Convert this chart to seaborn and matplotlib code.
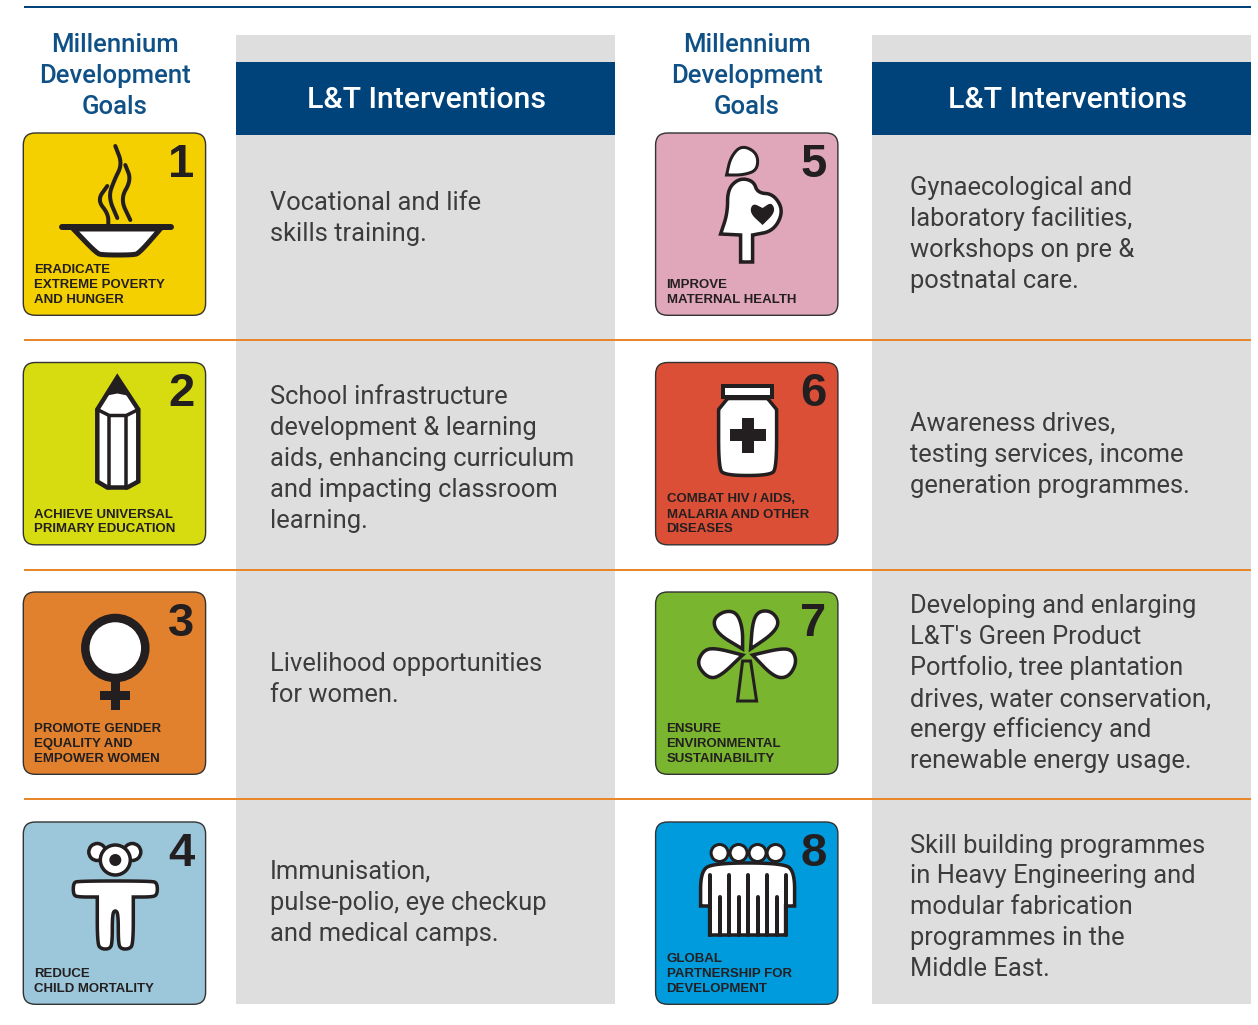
import numpy as np
import matplotlib
matplotlib.use("Agg")
import matplotlib.pyplot as plt
import seaborn as sns
from matplotlib.patches import Circle, FancyBboxPatch, Polygon, Rectangle
from matplotlib.transforms import Affine2D

GOAL_TITLES = [
    ["ERADICATE", "EXTREME POVERTY", "AND HUNGER"],
    ["ACHIEVE UNIVERSAL", "PRIMARY EDUCATION"],
    ["PROMOTE GENDER", "EQUALITY AND", "EMPOWER WOMEN"],
    ["REDUCE", "CHILD MORTALITY"],
    ["IMPROVE", "MATERNAL HEALTH"],
    ["COMBAT HIV / AIDS,", "MALARIA AND OTHER", "DISEASES"],
    ["ENSURE", "ENVIRONMENTAL", "SUSTAINABILITY"],
    ["GLOBAL", "PARTNERSHIP FOR", "DEVELOPMENT"],
]
INTERVENTIONS = [
    ["Vocational and life", "skills training."],
    ["School infrastructure", "development & learning", "aids, enhancing curriculum",
     "and impacting classroom", "learning."],
    ["Livelihood opportunities", "for women."],
    ["Immunisation,", "pulse-polio, eye checkup", "and medical camps."],
    ["Gynaecological and", "laboratory facilities,", "workshops on pre &", "postnatal care."],
    ["Awareness drives,", "testing services, income", "generation programmes."],
    ["Developing and enlarging", "L&T's Green Product", "Portfolio, tree plantation",
     "drives, water conservation,", "energy efficiency and", "renewable energy usage."],
    ["Skill building programmes", "in Heavy Engineering and", "modular fabrication",
     "programmes in the", "Middle East."],
]
GOAL_COLORS = ["#f5d000", "#d7dc10", "#e2812d", "#9cc6da",
               "#e0a6ba", "#dc4f37", "#79b52f", "#009bdd"]
TEXT_MIDDLE = [216.5, 457, 677.5, 901, 232.5, 453, 681.5, 905.5]

HEADER_LEFT = ["Millennium", "Development", "Goals"]
HEADER_RIGHT = "L&T Interventions"

BLUE = "#00437a"
TITLE_BLUE = "#0f5186"
ORANGE = "#e8872a"
GREY = "#dedede"
INK = "#231f20"
BODY_FONT = ["Roboto", "DejaVu Sans"]
LABEL_FONT = ["Liberation Sans", "DejaVu Sans"]

CARD_X = [23.3, 655.6]
CARD_Y = [133, 362.5, 592, 822]
CARD_SIZE = 182.3
PANELS = [(236, 615), (872, 1251)]
TEXT_X = [270, 910]

sns.set_theme(style="white")
plt.rcParams["font.family"] = BODY_FONT


def px(width):
    # figure is 100 dpi, linewidths are in points
    return width * 0.72


def smooth(points, closed=True, rounds=3):
    # corner cutting; a point listed twice stays a sharp corner
    pts = np.array(points, dtype=float)
    for _ in range(rounds):
        nxt = np.roll(pts, -1, axis=0)
        if not closed:
            nxt = pts[1:]
            a = pts[:-1]
        else:
            a = pts
        q = 0.75 * a + 0.25 * nxt
        r = 0.25 * a + 0.75 * nxt
        cut = np.empty((len(q) * 2, 2))
        cut[0::2] = q
        cut[1::2] = r
        if not closed:
            cut = np.vstack([pts[0], cut, pts[-1]])
        pts = cut
    return pts


def shape(ax, tr, points, face="white", lw=3.5, closed=True, round_it=True, z=4):
    verts = smooth(points) if round_it else np.array(points, dtype=float)
    ax.add_patch(Polygon(verts, closed=closed, facecolor=face, edgecolor=INK,
                         linewidth=px(lw), transform=tr, zorder=z, joinstyle="miter"))


def line(ax, tr, points, lw=3.5, round_it=False):
    verts = smooth(points, closed=False) if round_it else np.array(points, dtype=float)
    ax.plot(verts[:, 0], verts[:, 1], color=INK, linewidth=px(lw), transform=tr,
            solid_capstyle="round", solid_joinstyle="round", zorder=5)


def circle(ax, tr, x, y, r, face="white", lw=3.0, z=4):
    ax.add_patch(Circle((x, y), r, facecolor=face, edgecolor=INK, linewidth=px(lw),
                        transform=tr, zorder=z))


def box(ax, tr, x0, y0, x1, y1, z=5):
    ax.add_patch(Rectangle((x0, y0), x1 - x0, y1 - y0, facecolor=INK, edgecolor="none",
                           transform=tr, zorder=z))


def icon_bowl(ax, tr):
    line(ax, tr, [(92, 13), (99, 31), (91, 47), (85, 64), (94, 85)], lw=4, round_it=True)
    line(ax, tr, [(102, 32), (108, 47), (97, 66), (107, 87)], lw=4, round_it=True)
    line(ax, tr, [(84, 53), (74, 67), (85, 81), (85, 93)], lw=4, round_it=True)
    shape(ax, tr, [(50, 96), (50, 96), (73, 120), (79, 122), (110, 122), (116, 120),
                   (137, 96), (137, 96)], lw=5, round_it=True)
    line(ax, tr, [(39, 94), (148, 94)], lw=6)


def icon_pencil(ax, tr):
    shape(ax, tr, [(94, 15), (115, 47), (115, 119), (104, 125), (84, 125), (74, 119),
                   (74, 47)], round_it=False, lw=4.5)
    ax.add_patch(Polygon([(94, 14), (84, 33), (94, 31), (104, 33)], facecolor=INK,
                         edgecolor="none", transform=tr, zorder=5))
    line(ax, tr, [(74, 47), (86, 53), (103, 53), (115, 47)], lw=3.5)
    line(ax, tr, [(85.5, 53), (85.5, 125)], lw=3.5)
    line(ax, tr, [(103, 53), (103, 125)], lw=3.5)


def icon_venus(ax, tr):
    box(ax, tr, 87.5, 86, 96.5, 118)
    box(ax, tr, 77, 99, 107, 108)
    circle(ax, tr, 92, 56, 30, lw=8.5, z=6)


def icon_child(ax, tr):
    circle(ax, tr, 74, 30, 8.5, lw=3.5)
    circle(ax, tr, 109, 30, 8.5, lw=3.5)
    circle(ax, tr, 92, 38, 15, lw=3.5)
    circle(ax, tr, 92, 38, 6, face=INK, lw=0, z=5)
    shape(ax, tr, [(55, 59), (128, 59), (134, 61), (134, 73), (128, 75), (110, 75), (110, 75),
                   (110, 122), (106, 127), (98, 127), (95, 122), (95, 92), (92, 88), (89, 92),
                   (89, 122), (86, 127), (78, 127), (74, 122), (74, 75), (74, 75), (55, 75),
                   (50, 73), (50, 61)], lw=3.5)


def icon_mother(ax, tr):
    shape(ax, tr, [(71, 42), (71, 42), (75, 24), (86, 12), (102, 20), (102, 37), (88, 42)], lw=3)
    shape(ax, tr, [(85, 129), (85, 129), (85, 102), (85, 102), (65, 101), (65, 101), (72, 80),
                   (72, 56), (84, 45), (98, 48), (102, 60), (118, 61), (128, 78), (118, 98),
                   (97, 102), (97, 102), (97, 129), (97, 129)], lw=3.5)
    ax.add_patch(Polygon(smooth([(107, 92), (107, 92), (94, 80), (97, 70), (107, 75), (107, 75),
                                 (116, 69), (120, 79)]),
                         facecolor=INK, edgecolor="none", transform=tr, zorder=5))


def icon_jar(ax, tr):
    shape(ax, tr, [(67, 23), (116, 23), (116, 34), (67, 34)], lw=4, round_it=False)
    shape(ax, tr, [(72, 36), (72, 36), (112, 36), (112, 36), (121, 47), (121, 47), (121, 105),
                   (115, 113), (69, 113), (63, 105), (63, 47), (63, 47)], lw=3.5)
    box(ax, tr, 74, 66, 110, 78)
    box(ax, tr, 86, 55, 98, 90)


def icon_tree(ax, tr):
    shape(ax, tr, [(87, 57), (87, 57), (62, 42), (57, 28), (68, 19), (81, 20), (87, 36)], lw=3.5)
    shape(ax, tr, [(95, 57), (95, 57), (97, 30), (103, 19), (116, 19), (124, 30), (117, 42)], lw=3.5)
    shape(ax, tr, [(87, 63), (87, 63), (60, 56), (48, 58), (41, 72), (52, 86), (64, 85)], lw=3.5)
    shape(ax, tr, [(97, 63), (97, 63), (127, 56), (138, 59), (141, 72), (132, 86), (118, 85)], lw=3.5)
    shape(ax, tr, [(87, 69), (95, 69), (101, 109), (82, 109)], face="none", lw=3, round_it=False)


def icon_people(ax, tr):
    for x in (64, 83, 102, 120):
        circle(ax, tr, x, 31, 8.5, lw=3)
    shape(ax, tr, [(45, 84), (45, 84), (45, 50), (57, 41), (128, 41), (139, 50), (139, 84),
                   (139, 84), (130, 84), (130, 84), (130, 113), (130, 113), (54, 113),
                   (54, 113), (54, 84), (54, 84)], lw=3.5, z=5)
    for x in (54, 73, 92, 111, 130):
        line(ax, tr, [(x, 53), (x, 113)], lw=4)
    for x in (64, 83, 102, 121):
        line(ax, tr, [(x, 75), (x, 113)], lw=4)


ICONS = [icon_bowl, icon_pencil, icon_venus, icon_child,
         icon_mother, icon_jar, icon_tree, icon_people]

fig = plt.figure(figsize=(12.58, 10.25), dpi=100)
ax = fig.add_axes([0, 0, 1, 1])
ax.set_xlim(0, 1258)
ax.set_ylim(1025, 0)
ax.axis("off")

# panels and header bars
for (x0, x1) in PANELS:
    ax.add_patch(Rectangle((x0, 35), x1 - x0, 969, facecolor=GREY, edgecolor="none", zorder=1))
    ax.add_patch(Rectangle((x0, 62), x1 - x0, 73, facecolor=BLUE, edgecolor="none", zorder=2))
    ax.text((x0 + x1) / 2 + (1 if x0 < 600 else 6.5), 108, HEADER_RIGHT, color="white",
            fontsize=21.8, ha="center", va="baseline", fontweight="medium", zorder=3)

ax.plot([24, 1251], [6.5, 6.5], color=BLUE, linewidth=px(2), solid_capstyle="butt", zorder=3)
for y in (340, 569.5, 798.5):
    ax.plot([24, 1251], [y, y], color=ORANGE, linewidth=px(2), solid_capstyle="butt", zorder=3)

for cx in (115, 747):
    for i, word in enumerate(HEADER_LEFT):
        ax.text(cx, 52 + i * 31, word, color=TITLE_BLUE, fontsize=18.5, ha="center",
                va="baseline", fontweight="medium")

for i in range(8):
    col, row = divmod(i, 4)
    ox, oy = CARD_X[col], CARD_Y[row]
    ax.add_patch(FancyBboxPatch((ox, oy), CARD_SIZE, CARD_SIZE,
                                boxstyle="round,pad=0,rounding_size=12",
                                facecolor=GOAL_COLORS[i], edgecolor="#333333",
                                linewidth=px(1.4), zorder=3))
    tr = Affine2D().translate(ox, oy) + ax.transData
    ICONS[i](ax, tr)

    ax.text(ox + 158, oy + 44, str(i + 1), color=INK, fontsize=34, fontweight="bold",
            ha="center", va="baseline", family=LABEL_FONT, zorder=6)
    lines = GOAL_TITLES[i]
    for j, txt in enumerate(lines):
        ax.text(ox + 11, oy + 170 - (len(lines) - 1 - j) * 15, txt, color=INK, fontsize=9.5,
                fontweight="bold", ha="left", va="baseline", family=LABEL_FONT, zorder=6)

    body = INTERVENTIONS[i]
    top = TEXT_MIDDLE[i] - (len(body) - 1) / 2 * 31 + 9
    for j, txt in enumerate(body):
        ax.text(TEXT_X[col], top + j * 31, txt, color="#3c3c3c", fontsize=18.4, ha="left",
                va="baseline", zorder=6)

fig.savefig("out.png", dpi=100)
plt.close(fig)
